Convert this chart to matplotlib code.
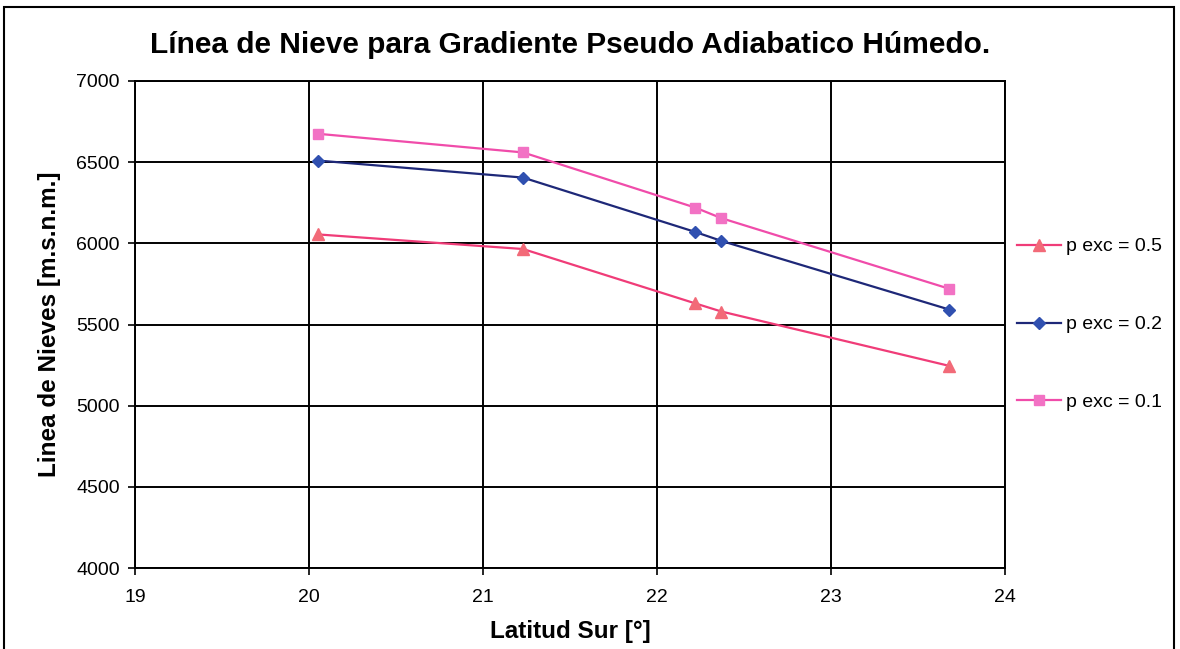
import matplotlib.pyplot as plt
from matplotlib.patches import Rectangle

# --- Data ---
latitud = [20.05, 21.23, 22.22, 22.37, 23.68]
nieve_p05 = [6055, 5965, 5630, 5580, 5245]
nieve_p02 = [6510, 6405, 6070, 6015, 5592]
nieve_p01 = [6675, 6560, 6220, 6155, 5720]

x_ticks = [19, 20, 21, 22, 23, 24]
y_ticks = [4000, 4500, 5000, 5500, 6000, 6500, 7000]

plt.rcParams["font.family"] = ["Liberation Sans", "DejaVu Sans"]

# --- Figure ---
fig = plt.figure(figsize=(11.8, 6.49), dpi=100)
ax = fig.add_axes([0.1144, 0.1248, 0.7373, 0.7504])

# outer frame around the chart
fig.patches.append(Rectangle((0.003, -0.01), 0.992, 0.999, transform=fig.transFigure,
                             fill=False, edgecolor="black", linewidth=1.5))

ax.plot(latitud, nieve_p05, color="#f03c78", marker="^", markersize=8,
        markerfacecolor="#f26a78", markeredgecolor="#f26a78", linewidth=1.6,
        label="p exc = 0.5")
ax.plot(latitud, nieve_p02, color="#1e2878", marker="D", markersize=6.5,
        markerfacecolor="#3050b0", markeredgecolor="#3050b0", linewidth=1.6,
        label="p exc = 0.2")
ax.plot(latitud, nieve_p01, color="#f04caa", marker="s", markersize=7,
        markerfacecolor="#f272c4", markeredgecolor="#f272c4", linewidth=1.6,
        label="p exc = 0.1")

ax.set_xlim(19, 24)
ax.set_ylim(4000, 7000)
ax.set_xticks(x_ticks)
ax.set_yticks(y_ticks)
ax.grid(True, color="black", linewidth=1.4)
for s in ax.spines.values():
    s.set_linewidth(1.4)
ax.tick_params(direction="out", length=5, width=1.2, labelsize=14)
ax.tick_params(axis="x", pad=10)
ax.tick_params(axis="y", pad=6)

ax.set_title("Línea de Nieve para Gradiente Pseudo Adiabatico Húmedo.",
             fontsize=21.5, fontweight="bold", pad=20)
ax.set_xlabel("Latitud Sur [°]", fontsize=17.5, fontweight="bold", labelpad=10)
ax.set_ylabel("Linea de Nieves [m.s.n.m.]", fontsize=17.5, fontweight="bold", labelpad=11)

ax.legend(loc="center left", bbox_to_anchor=(1.0, 0.5), frameon=False,
          fontsize=14, handlelength=2.3, handletextpad=0.25, labelspacing=3.1,
          borderaxespad=0.2)

fig.savefig("out.png", dpi=100)
plt.close(fig)
